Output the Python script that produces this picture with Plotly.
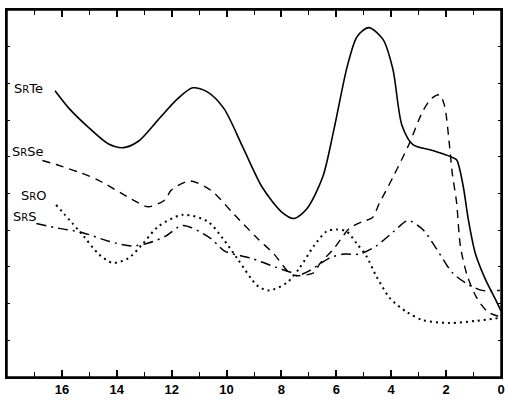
import plotly.graph_objects as go

# x axis: reversed scale (18 -> 0); y: arbitrary units (0-10)
srte_x = [16.25, 15.74, 15.0, 14.3, 13.75, 13.2, 12.5, 11.77, 11.23, 10.7, 10.1, 9.4, 8.7, 8.0,
          7.55, 7.08, 6.5, 6.1, 5.6, 5.24, 4.82, 4.3, 3.94, 3.61, 3.21, 2.49, 1.62, 1.55, 1.37,
          1.19, 0.94, 0.58, 0.22, 0.0]
srte_y = [7.80, 7.32, 6.78, 6.35, 6.25, 6.43, 7.00, 7.59, 7.88, 7.77, 7.32, 6.25, 5.17, 4.50,
          4.32, 4.58, 5.44, 6.70, 8.47, 9.28, 9.52, 9.20, 8.39, 6.86, 6.33, 6.17, 5.92, 5.79, 5.17,
          4.29, 3.38, 2.68, 2.14, 1.80]

srse_x = [16.71, 16.21, 15.38, 14.66, 13.47, 12.85, 12.24, 12.02, 11.34, 10.58, 9.71, 8.88,
          8.27, 7.69, 7.44, 6.82, 6.61, 6.10, 5.52, 5.02, 4.69, 4.44, 3.94, 3.36, 2.85, 2.53,
          2.24, 2.06, 1.88, 1.77, 1.62, 1.48, 1.23, 0.87, 0.47, 0.04]
srse_y = [5.90, 5.79, 5.58, 5.36, 4.85, 4.64, 4.83, 5.09, 5.34, 5.09, 4.42, 3.78,
          3.35, 2.82, 2.76, 2.84, 3.08, 3.49, 4.05, 4.24, 4.34, 4.72, 5.44, 6.33, 7.24, 7.59,
          7.69, 7.40, 6.33, 5.52, 4.77, 3.57, 2.76, 2.14, 1.77, 1.64]

sro_x = [16.21, 15.2, 14.66, 14.15, 13.57, 13.03, 12.49, 11.59, 10.69, 10.14, 9.6, 8.88, 8.45,
         7.8, 7.33, 6.82, 6.35, 5.99, 5.63, 5.27, 4.91, 4.55, 4.04, 3.43, 2.85, 1.88, 0.9, 0.07]
sro_y = [4.69, 3.83, 3.35, 3.11, 3.24, 3.65, 4.10, 4.42, 4.24, 3.78, 3.22, 2.49, 2.36,
         2.57, 2.98, 3.57, 3.97, 4.02, 3.97, 3.65, 3.30, 2.76, 2.14, 1.77, 1.55, 1.47, 1.53, 1.61]

srs_x = [16.93, 16.1, 15.27, 14.3, 13.47, 12.85, 12.24, 11.59, 10.58, 10.07, 9.13, 8.16, 7.55,
         7.44, 6.97, 6.25, 5.74, 5.16, 4.55, 3.9, 3.39, 2.85, 2.35, 1.77, 1.26, 0.69, 0.04]
srs_y = [4.18, 4.05, 3.94, 3.70, 3.57, 3.65, 3.83, 4.13, 3.78, 3.43, 3.24, 2.98, 2.82,
         2.76, 2.90, 3.24, 3.35, 3.35, 3.57, 3.97, 4.26, 4.02, 3.49, 2.84, 2.55, 2.36, 2.36]

x_ticks = [16, 14, 12, 10, 8, 6, 4, 2, 0]

fig = go.Figure()
line_common = dict(color="black", shape="spline", smoothing=0.8)
fig.add_trace(go.Scatter(x=srte_x, y=srte_y, mode="lines", name="SrTe",
                         line=dict(width=1.6, dash="solid", **line_common)))
fig.add_trace(go.Scatter(x=srse_x, y=srse_y, mode="lines", name="SrSe",
                         line=dict(width=1.4, dash="8px,6px", **line_common)))
fig.add_trace(go.Scatter(x=sro_x, y=sro_y, mode="lines", name="SrO",
                         line=dict(width=2, dash="2px,4px", **line_common)))
fig.add_trace(go.Scatter(x=srs_x, y=srs_y, mode="lines", name="SrS",
                         line=dict(width=1.5, dash="10px,5px,2px,5px", **line_common)))

# curve labels (small-cap R)
small_r = "<span style='font-size:10px'>R</span>"
labels = [("S" + small_r + "Te", 17.82, 7.85),
          ("S" + small_r + "Se", 17.9, 6.15),
          ("S" + small_r + "O", 17.55, 4.95),
          ("S" + small_r + "S", 17.85, 4.37)]
for txt, lx, ly in labels:
    fig.add_annotation(x=lx, y=ly, text=txt, showarrow=False, xanchor="left",
                       font=dict(family="DejaVu Sans", size=13, color="black"))

# frame round the plot area
fig.add_shape(type="rect", xref="paper", yref="paper", x0=0, y0=0, x1=1, y1=1,
              line=dict(color="black", width=1.5), layer="above")

fig.update_layout(
    width=508, height=400,
    margin=dict(l=7, r=3, t=10, b=17),
    paper_bgcolor="white", plot_bgcolor="white",
    showlegend=False,
)
fig.update_xaxes(
    range=[18, 0], tickvals=x_ticks, ticktext=[str(v) for v in x_ticks],
    ticks="inside", ticklen=7, tickwidth=1.5, tickcolor="black",
    minor=dict(dtick=1, ticks="inside", ticklen=5, tickwidth=1.2, tickcolor="black"),
    showline=True, linecolor="black", linewidth=1.5, mirror="allticks",
    showgrid=False, zeroline=False,
    tickfont=dict(family="Liberation Sans", size=13, color="black", weight="bold"),
)
fig.update_yaxes(
    range=[0, 10], dtick=1, showticklabels=False,
    ticks="inside", ticklen=3, tickwidth=1, tickcolor="black",
    showline=True, linecolor="black", linewidth=1.5, mirror="allticks",
    showgrid=False, zeroline=False,
)

# drop the default page margin so the 508x400 figure fills the window; no modebar
fig.write_html("out.html", config={"displayModeBar": False},
               post_script="document.body.style.margin='0';document.body.style.overflow='hidden';")
